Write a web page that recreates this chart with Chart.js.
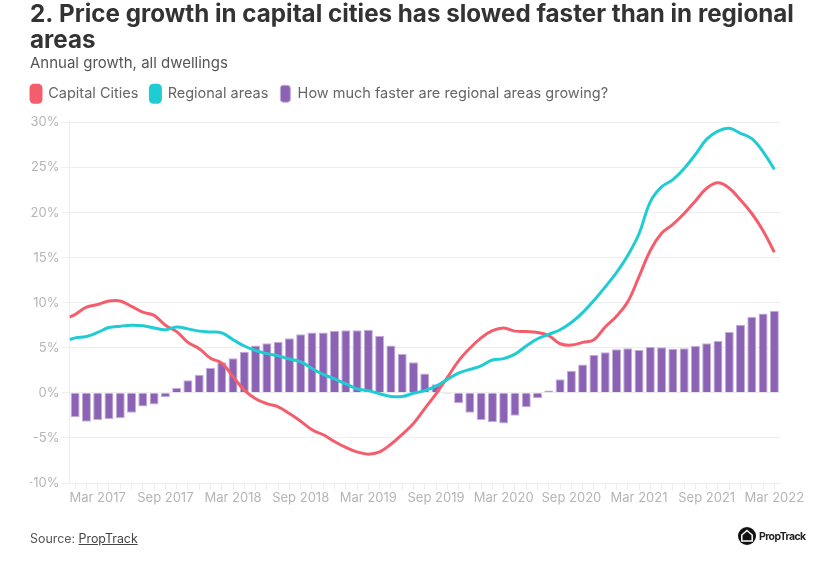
<!DOCTYPE html>
<html>
<head>
<meta charset="utf-8">
<title>Price growth</title>
<script src="https://cdn.jsdelivr.net/npm/chart.js@4/dist/chart.umd.min.js"></script>
<style>
  body { margin: 0; background: #fff; font-family: Inter, sans-serif; }
  #wrap { position: relative; width: 817px; height: 562px; overflow: hidden; }
  #source { position: absolute; left: 30px; top: 531px; font-size: 12.4px; color: #555; }
  #source u { color: #444; }
  #logo { position: absolute; left: 738px; top: 527px; display: flex; align-items: center; gap: 3px;
          font-size: 10.5px; font-weight: 700; letter-spacing: -0.6px; color: #222; }
</style>
</head>
<body>
<div id="wrap">
  <canvas id="canvas" width="817" height="562"></canvas>
  <div id="source">Source: <u>PropTrack</u></div>
  <div id="logo">
    <svg width="18" height="18" viewBox="0 0 18 18"><circle cx="9" cy="9" r="9" fill="#111"/><path d="M9 3.5 L14.2 8 V14 H3.8 V8 Z" fill="none" stroke="#fff" stroke-width="1.5"/></svg>
    <span>PropTrack</span>
  </div>
</div>
<script>
const months = ['Jan','Feb','Mar','Apr','May','Jun','Jul','Aug','Sep','Oct','Nov','Dec'];
const labels = [];
for (let i = 0; i < 63; i++) {
  labels.push(months[i % 12] + ' ' + (2017 + Math.floor(i / 12)));
}

// bars, one per month from Jan 2017
const gap = [
  -2.7, -3.2, -3.0, -2.9, -2.8, -2.2, -1.5, -1.3, -0.5, 0.55, 1.4, 2.0,
  2.8, 3.4, 3.85, 4.55, 5.25, 5.5, 5.65, 6.05, 6.5, 6.7, 6.7, 6.9,
  6.95, 6.95, 7.0, 6.35, 5.25, 4.3, 3.4, 2.15, 0.95, -0.1, -1.15, -2.2,
  -3.0, -3.25, -3.4, -2.55, -1.6, -0.6, 0.25, 1.5, 2.45, 3.15, 4.2, 4.5,
  4.85, 4.95, 4.75, 5.1, 5.05, 4.9, 4.95, 5.2, 5.5, 5.75, 6.75, 7.55,
  8.45, 8.8, 9.1
];

// the lines start half a month before the first bar
const lineStart = -0.5;
const capital = [
  8.4, 8.7, 9.5, 9.8, 10.2, 10.2, 9.6, 8.95, 8.6, 7.5, 6.8, 5.6, 4.9,
  3.85, 3.3, 1.8, 0.3, -0.65, -1.2, -1.55, -2.3, -3.15, -4.1, -4.65, -5.4,
  -6.05, -6.55, -6.8, -6.55, -5.7, -4.6, -3.4, -1.75, -0.1, 1.7, 3.55, 4.95,
  6.1, 6.9, 7.2, 6.85, 6.8, 6.7, 6.35, 5.45, 5.3, 5.6, 5.9, 7.3,
  8.5, 10.1, 12.9, 15.8, 17.7, 18.7, 19.9, 21.3, 22.7, 23.3, 22.7, 21.4,
  19.9, 18.0, 15.6
];
const regional = [
  5.9, 6.1, 6.25, 6.7, 7.25, 7.4, 7.5, 7.45, 7.2, 7.0, 7.3, 7.1, 6.85,
  6.75, 6.65, 5.9, 5.2, 4.7, 4.35, 4.1, 3.75, 3.45, 2.7, 2.05, 1.55,
  1.0, 0.45, 0.25, -0.1, -0.4, -0.4, -0.05, 0.25, 0.75, 1.5, 2.2, 2.6,
  3.0, 3.65, 3.8, 4.3, 5.2, 6.0, 6.5, 7.0, 7.8, 8.9, 10.25, 11.75,
  13.35, 15.25, 17.65, 21.2, 22.85, 23.65, 24.9, 26.45, 28.15, 29.05, 29.35, 28.8,
  28.2, 26.75, 24.8
];

const toPoints = arr => arr.map((v, i) => ({ x: i === 0 ? lineStart : i - 1, y: v }));

const axisColor = '#eeeeee';
const tickColor = '#b5b5b5';

// legend and title: room under the legend, no left indent, title may run past the plot
const blockTweak = {
  id: 'blockTweak',
  beforeInit(chart) {
    const fit = chart.legend.fit;
    chart.legend.fit = function () {
      fit.call(this);
      this.height += 10.2;
    };
  },
  beforeDraw(chart) {
    chart.legend.left = 19;
    chart.titleBlock.right = 817;
  },
};

new Chart(document.getElementById('canvas'), {
  data: {
    labels: labels,
    datasets: [
      {
        type: 'line', label: 'Capital Cities', data: toPoints(capital), xAxisID: 'xLine',
        borderColor: '#f45e6c', backgroundColor: '#f45e6c', borderWidth: 3,
        pointRadius: 0, tension: 0.4, order: 1,
      },
      {
        type: 'line', label: 'Regional areas', data: toPoints(regional), xAxisID: 'xLine',
        borderColor: '#20ccd3', backgroundColor: '#20ccd3', borderWidth: 3,
        pointRadius: 0, tension: 0.4, order: 0,
      },
      {
        type: 'bar', label: 'How much faster are regional areas growing?', data: gap, xAxisID: 'x',
        backgroundColor: '#8c62b4', borderColor: '#c3aedb', borderWidth: 1,
        grouped: false, // two x axes would otherwise split the band in half
        barPercentage: 0.8, categoryPercentage: 1, order: 2,
      },
    ],
  },
  plugins: [blockTweak],
  options: {
    responsive: false,
    animation: false,
    layout: { padding: { left: 30, right: 37, top: 0, bottom: 49 } },
    plugins: {
      title: {
        display: true,
        text: ['2. Price growth in capital cities has slowed faster than in regional', 'areas'],
        align: 'start',
        color: '#333333',
        font: { family: 'Inter', size: 24.2, weight: '700', lineHeight: 1.08 },
        padding: { top: 2, bottom: 0 },
      },
      subtitle: {
        display: true,
        text: 'Annual growth, all dwellings',
        align: 'start',
        color: '#555555',
        font: { family: 'Inter', size: 15, weight: '400' },
        padding: { top: 0, bottom: 1 },
      },
      legend: {
        position: 'top',
        align: 'start',
        labels: {
          boxWidth: 10, boxHeight: 17, useBorderRadius: true, borderRadius: 3,
          color: '#666666', padding: 12,
          sort: (a, b) => a.datasetIndex - b.datasetIndex,
          font: { family: 'Inter', size: 14.5 },
        },
      },
      tooltip: { enabled: false },
    },
    scales: {
      x: {
        type: 'category',
        offset: true,
        afterFit: s => { s.height = 30; },
        grid: { drawOnChartArea: false, offset: false, tickLength: 7, color: axisColor },
        border: { color: axisColor },
        ticks: {
          autoSkip: false, maxRotation: 0, color: tickColor, padding: 0,
          font: { family: 'Inter', size: 13 },
          callback: function (v, i) { return (i - 2) % 6 === 0 ? labels[i] : ''; },
        },
      },
      xLine: { type: 'linear', display: false, min: lineStart, max: 62.5 },
      y: {
        min: -10, max: 30,
        afterFit: s => { s.width = 39.5; },
        grid: { color: axisColor, tickLength: 8 },
        border: { color: axisColor },
        ticks: {
          stepSize: 5, color: tickColor, padding: 2,
          font: { family: 'Inter', size: 13 },
          callback: v => v + '%',
        },
      },
    },
  },
});
</script>
</body>
</html>
